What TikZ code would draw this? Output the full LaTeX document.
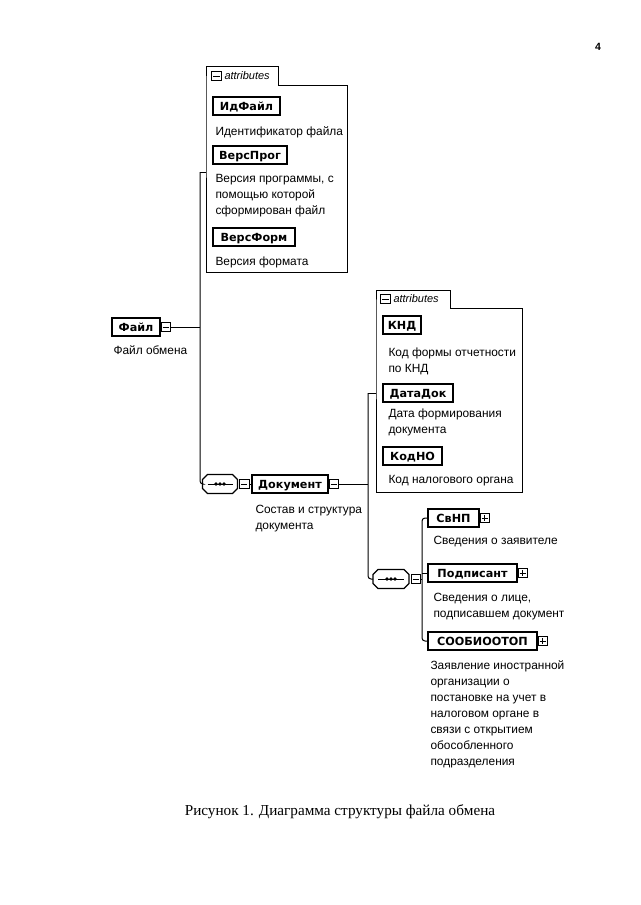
\documentclass[tikz,border=0pt]{standalone}
\usepackage{fontspec}
\setmainfont{Liberation Sans}
\newfontfamily\namefont{DejaVu Sans}
\newfontfamily\capfont{Liberation Serif}
\begin{document}
\begin{tikzpicture}[x=1pt,y=-1pt,line width=1pt,
  elem/.style={draw,line width=1.1pt,minimum height=18,inner sep=0pt,text height=8.1pt,text depth=0pt,
    font=\namefont\bfseries\fontsize{11.2}{13}\selectfont},
  minus/.style={draw,line width=0.8pt,minimum size=9.5,inner sep=0pt,fill=white,
    path picture={\draw[line width=0.8pt] ([xshift=1.6pt]path picture bounding box.west) -- ([xshift=-1.6pt]path picture bounding box.east);}},
  plus/.style={draw,line width=0.8pt,minimum size=9.5,inner sep=0pt,fill=white,
    path picture={\draw[line width=0.8pt] ([xshift=1.6pt]path picture bounding box.west) -- ([xshift=-1.6pt]path picture bounding box.east)
      ([yshift=-1.6pt]path picture bounding box.north) -- ([yshift=1.6pt]path picture bounding box.south);}},
  seqbox/.style={rectangle,minimum width=34,minimum height=18,inner sep=0pt},
  octo/.style={line width=1.1pt},
  desc/.style={inner sep=0pt,align=left,anchor=north west,font=\fontsize{11.9}{16}\selectfont},
  tabtext/.style={inner sep=0pt,anchor=west,font=\itshape\fontsize{11}{12}\selectfont},
  attrbox/.style={line width=1pt}]
\useasboundingbox (0,0) rectangle (640,905);

% page number
\node[font=\bfseries\fontsize{10.5}{12}\selectfont] (pg) at (598,47) {4};

% ---------- attributes of Файл ----------
\draw[attrbox] (206,85) -- (206,66) -- (278,66) -- (278,85) -- (347,85) -- (347,272) -- (206,272) -- cycle;
\node[minus] (t1m) at (216.5,76) {};
\node[tabtext] (t1) at (224,76) {attributes};
\coordinate (a1w) at (206,172);

\node[elem,minimum width=67] (idf) at (246.5,106) {ИдФайл};
\node[desc] (idfd) at (215,126.5) {Идентификатор файла};
\node[elem,minimum width=74] (vp) at (250,155) {ВерсПрог};
\node[desc] (vpd) at (215,173.5) {Версия программы, с\\помощью которой\\сформирован файл};
\node[elem,minimum width=82] (vf) at (254,237) {ВерсФорм};
\node[desc] (vfd) at (215,256.5) {Версия формата};

% ---------- Файл ----------
\node[elem,minimum width=48] (file) at (136,327) {Файл};
\node[minus,anchor=west] (filem) at (file.east) {};
\node[desc] (filed) at (113,345) {Файл обмена};
\coordinate (j1) at (200,327);
\coordinate (j1t) at (200,172);

% ---------- sequence 1 + Документ ----------
\node[seqbox] (seq1) at (220,484) {};
\draw[octo] ([xshift=5pt]seq1.north west) -- ([xshift=-5pt]seq1.north east) -- ([yshift=-5pt]seq1.north east)
  -- ([yshift=5pt]seq1.south east) -- ([xshift=-5pt]seq1.south east) -- ([xshift=5pt]seq1.south west)
  -- ([yshift=5pt]seq1.south west) -- ([yshift=-5pt]seq1.north west) -- cycle;
\draw[line width=0.9pt] ([xshift=5pt]seq1.west) -- ([xshift=-5pt]seq1.east);
\foreach \dx in {-4,0,4}{\fill ([xshift=\dx pt]seq1.center) circle (1.8pt);}
\node[minus,anchor=west] (seq1m) at ([xshift=1.5pt]seq1.east) {};
\node[elem,minimum width=76] (doc) at (290,484) {Документ};
\node[minus,anchor=west] (docm) at (doc.east) {};
\node[desc] (docd) at (255,504.5) {Состав и структура\\документа};

\draw (filem.east) -- (j1);
\draw (a1w) -- (j1t);
\draw[rounded corners=3pt] (j1t) -- (j1t |- seq1.west) -- (seq1.west);
\draw (seq1m.east) -- (doc.west);

% ---------- attributes of Документ ----------
\draw[attrbox] (376,308) -- (376,290) -- (450,290) -- (450,308) -- (522,308) -- (522,492) -- (376,492) -- cycle;
\node[minus] (t2m) at (385.5,299) {};
\node[tabtext] (t2) at (393,299) {attributes};
\coordinate (a2w) at (376,393);

\node[elem,minimum width=38] (knd) at (402,325) {КНД};
\node[desc] (kndd) at (388,347.5) {Код формы отчетности\\по КНД};
\node[elem,minimum width=70] (dd) at (418,393) {ДатаДок};
\node[desc] (ddd) at (388,408.5) {Дата формирования\\документа};
\node[elem,minimum width=59] (kno) at (412.5,456) {КодНО};
\node[desc] (knod) at (388,474.5) {Код налогового органа};

\coordinate (j2) at (368,484);
\coordinate (j2t) at (368,393);
\draw (docm.east) -- (j2);
\draw (a2w) -- (j2t);

% ---------- sequence 2 + children ----------
\node[seqbox,minimum width=35] (seq2) at (391,579) {};
\draw[octo] ([xshift=5pt]seq2.north west) -- ([xshift=-5pt]seq2.north east) -- ([yshift=-5pt]seq2.north east)
  -- ([yshift=5pt]seq2.south east) -- ([xshift=-5pt]seq2.south east) -- ([xshift=5pt]seq2.south west)
  -- ([yshift=5pt]seq2.south west) -- ([yshift=-5pt]seq2.north west) -- cycle;
\draw[line width=0.9pt] ([xshift=5pt]seq2.west) -- ([xshift=-5pt]seq2.east);
\foreach \dx in {-4,0,4}{\fill ([xshift=\dx pt]seq2.center) circle (1.8pt);}
\node[minus,anchor=west] (seq2m) at ([xshift=1.5pt]seq2.east) {};
\draw[rounded corners=3pt] (j2t) -- (j2t |- seq2.west) -- (seq2.west);

\node[elem,minimum width=51] (svnp) at (453.5,518) {СвНП};
\node[plus,anchor=west] (svnpp) at (svnp.east) {};
\node[desc] (svnpd) at (433,535.5) {Сведения о заявителе};
\node[elem,minimum width=89] (podp) at (472.5,573) {Подписант};
\node[plus,anchor=west] (podpp) at (podp.east) {};
\node[desc] (podpd) at (433,592.5) {Сведения о лице,\\подписавшем документ};
\node[elem,minimum width=109] (soob) at (482.5,641) {СООБИООТОП};
\node[plus,anchor=west] (soobp) at (soob.east) {};
\node[desc] (soobd) at (430,660.5) {Заявление иностранной\\организации о\\постановке на учет в\\налоговом органе в\\связи с открытием\\обособленного\\подразделения};

\coordinate (j3) at (422,579);
\draw (seq2m.east) -- (j3);
\draw[rounded corners=3pt] (svnp.west) -- (svnp.west -| j3) -- (soob.west -| j3) -- (soob.west);
\draw (podp.west -| j3) -- (podp.west);

% ---------- caption ----------
\node[font=\capfont\fontsize{15.2}{18}\selectfont] (cap) at (340,812) {Рисунок 1. Диаграмма структуры файла обмена};
\end{tikzpicture}
\end{document}
